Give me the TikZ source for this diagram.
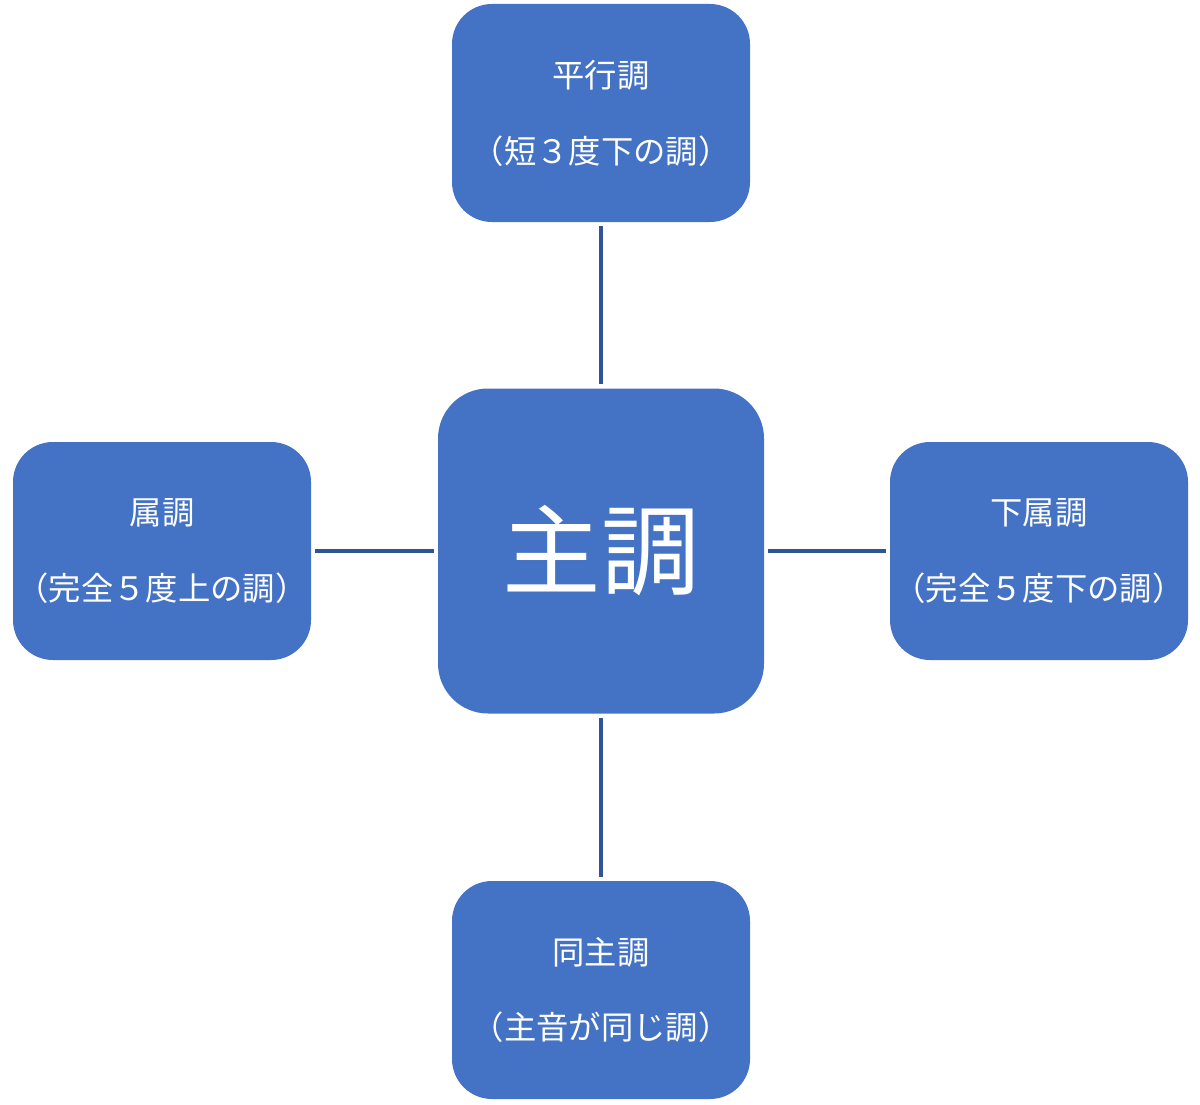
\documentclass[tikz,border=0pt]{standalone}
\usepackage{fontspec}
\newfontfamily\jp{Noto Sans CJK JP}
\usepackage{tikz}
\definecolor{keyblue}{HTML}{4472C4}
\definecolor{linkblue}{HTML}{2F5597}
\tikzset{
  keybox/.style={fill=keyblue, draw=none, text=white, rounded corners=1cm, inner sep=0pt,
    minimum width=7.45cm, minimum height=5.45cm, align=center, font=\jp\fontsize{23}{54}\selectfont},
  tonic/.style={keybox, rounded corners=1.25cm, minimum width=8.15cm, minimum height=8.125cm,
    font=\jp\fontsize{70}{80}\selectfont},
  link/.style={line width=2.2pt, color=linkblue, shorten <=0.1cm, shorten >=0.1cm}
}

\begin{document}
\begin{tikzpicture}
		%%%%% START %%%%%
		
		\useasboundingbox (0, 0) rectangle (30, -27.6);
		
		\node[tonic] (main) at (15.025, -13.775) {主調};
		
		\node[keybox] (rel) at (15.025, -2.825) {平行調\\（短３度下の調）};
		\node[keybox] (dom) at (4.05, -13.775) {属調\\（完全５度上の調）};
		\node[keybox] (sub) at (25.975, -13.775) {下属調\\（完全５度下の調）};
		\node[keybox] (par) at (15.025, -24.75) {同主調\\（主音が同じ調）};
		
		\draw[link] (main) -- (rel);
		\draw[link] (main) -- (dom);
		\draw[link] (main) -- (sub);
		\draw[link] (main) -- (par);
		
		%%%%% END %%%%%
	\end{tikzpicture}
\end{document}
